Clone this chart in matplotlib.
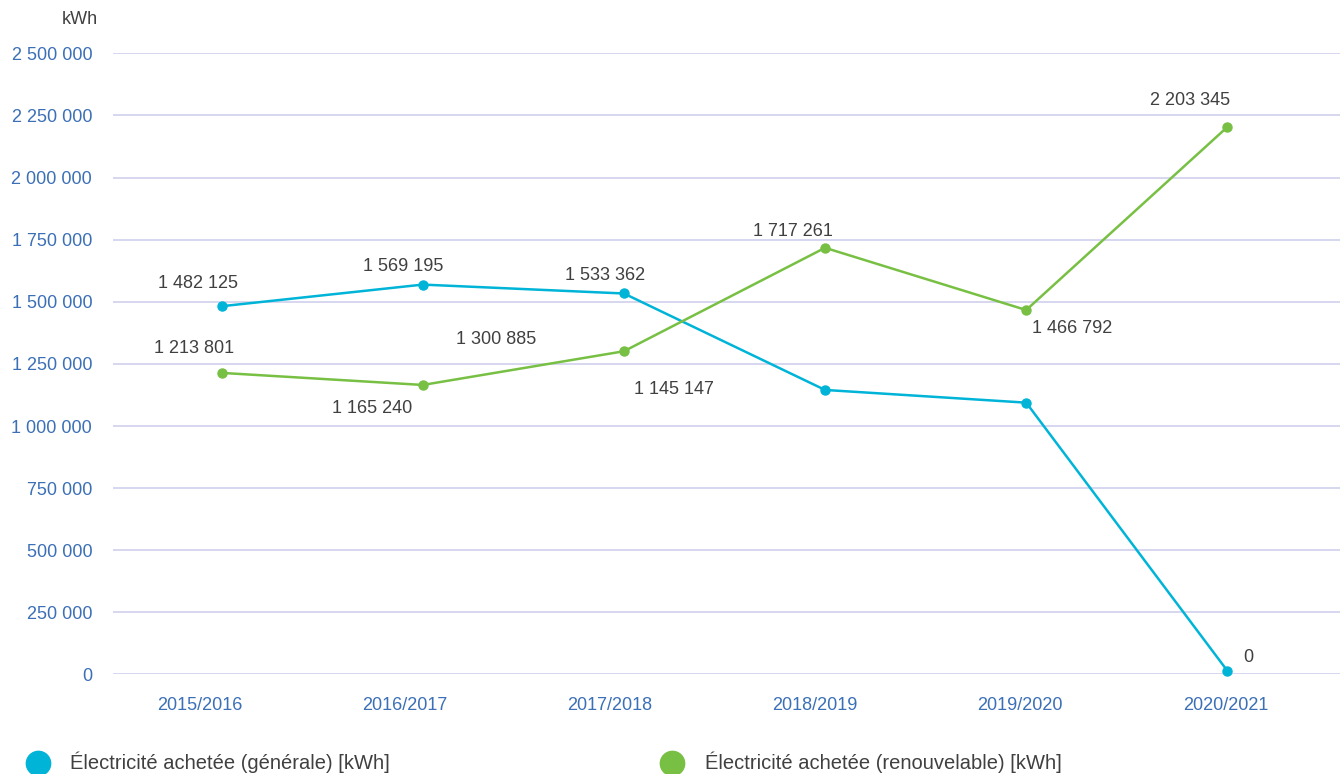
import matplotlib.pyplot as plt
import matplotlib.transforms as mtransforms
from matplotlib.lines import Line2D

plt.rcParams['font.family'] = ['Liberation Sans', 'DejaVu Sans']

years = ['2015/2016', '2016/2017', '2017/2018', '2018/2019', '2019/2020', '2020/2021']
generale = [1482125, 1569195, 1533362, 1145147, 1094000, 15000]
renouvelable = [1213801, 1165240, 1300885, 1717261, 1466792, 2203345]
generale_labels = ['1 482 125', '1 569 195', '1 533 362', '1 145 147', '', '0']
renouvelable_labels = ['1 213 801', '1 165 240', '1 300 885', '1 717 261', '1 466 792', '2 203 345']
yticks = [0, 250000, 500000, 750000, 1000000, 1250000, 1500000, 1750000, 2000000, 2250000, 2500000]

BLUE = '#00b4d8'
GREEN = '#77c043'
TICK = '#3b6fb6'
GRID = '#cfd1ec'
TXT = '#404040'

# label offsets in pixels (dx, dy)
gen_off = [(-24, 23), (-20, 18), (-19, 18), (-151, 0), (0, 0), (21, 13)]
ren_off = [(-28, 24), (-51, -24), (-128, 12), (-32, 16), (46, -18), (-37, 27)]


def fmt(v):
    return f'{v:,}'.replace(',', ' ')


fig = plt.figure(figsize=(13.44, 7.74), dpi=100)
ax = fig.add_axes([0.0841, 0.1286, 0.9129, 0.8025])

x = list(range(len(years)))
ax.plot(x, generale, color=BLUE, lw=1.8, marker='o', ms=6.5, clip_on=False, zorder=3)
ax.plot(x, renouvelable, color=GREEN, lw=1.8, marker='o', ms=6.5, clip_on=False, zorder=3)

for i, (v, lab) in enumerate(zip(generale, generale_labels)):
    if lab:
        ax.annotate(lab, (i, v), xytext=gen_off[i], textcoords='offset pixels',
                    ha='center', va='center', fontsize=13, color=TXT)
for i, (v, lab) in enumerate(zip(renouvelable, renouvelable_labels)):
    ax.annotate(lab, (i, v), xytext=ren_off[i], textcoords='offset pixels',
                ha='center', va='center', fontsize=13, color=TXT)

ax.set_xlim(-0.54, 5.56)
ax.set_ylim(0, 2500000)
ax.set_yticks(yticks)
ax.set_yticklabels([fmt(t) for t in yticks])
ax.set_xticks(x)
ax.set_xticklabels(years)
ax.tick_params(axis='y', length=0, pad=15, labelsize=13, labelcolor=TICK)
ax.tick_params(axis='x', length=0, pad=16, labelsize=13, labelcolor=TICK)
ax.grid(axis='y', color=GRID, lw=1.2)
ax.set_axisbelow(True)
for s in ax.spines.values():
    s.set_visible(False)

# year labels sit a little left of the points in the original
for i, lbl in enumerate(ax.get_xticklabels()):
    dx = (-22 + 4 * i) / 100
    lbl.set_transform(lbl.get_transform() + mtransforms.ScaledTranslation(dx, 0, fig.dpi_scale_trans))

fig.text(80 / 1344, 1 - 20 / 774, 'kWh', ha='center', va='center', fontsize=13, color=TXT)

# legend drawn by hand at the bottom
for cx, tx, col, lab in [(38, 70, BLUE, 'Électricité achetée (générale) [kWh]'),
                         (672, 705, GREEN, 'Électricité achetée (renouvelable) [kWh]')]:
    fig.add_artist(Line2D([cx / 1344], [1 - 763 / 774], transform=fig.transFigure,
                          marker='o', ms=17.5, color=col, ls='none'))
    fig.text(tx / 1344, 1 - 762 / 774, lab, ha='left', va='center', fontsize=14.5, color=TXT)

fig.savefig('out.png', dpi=100)
